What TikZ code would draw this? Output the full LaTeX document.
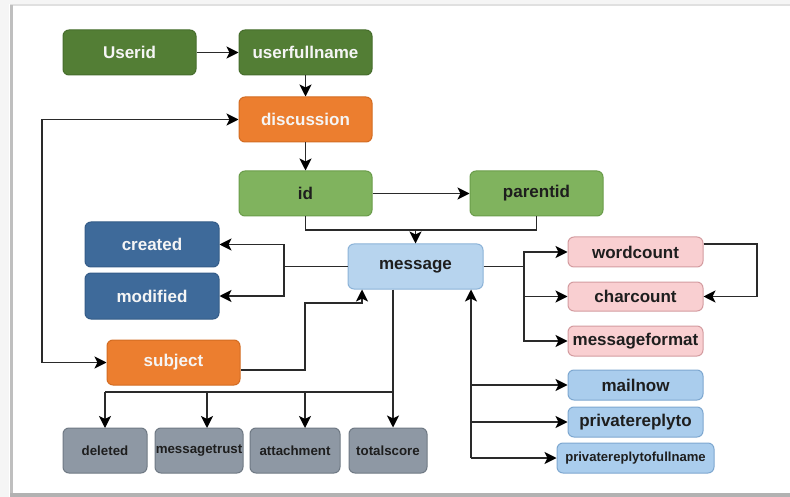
\documentclass[tikz,border=0pt]{standalone}
\usepackage{fontspec}
\setmainfont{Liberation Sans}
\usetikzlibrary{arrows.meta}

\definecolor{dkgreen}{HTML}{537E35}
\definecolor{dkgreenB}{HTML}{466D2C}
\definecolor{orng}{HTML}{EC7E2F}
\definecolor{orngB}{HTML}{D36C22}
\definecolor{ltgreen}{HTML}{80B35E}
\definecolor{ltgreenB}{HTML}{6A9C4A}
\definecolor{dkblue}{HTML}{3E6A9A}
\definecolor{dkblueB}{HTML}{345C88}
\definecolor{msgblue}{HTML}{B7D4EE}
\definecolor{msgblueB}{HTML}{8CB3D8}
\definecolor{pinkf}{HTML}{F9CFD1}
\definecolor{pinkB}{HTML}{D49CA0}
\definecolor{ltblue}{HTML}{AACDED}
\definecolor{ltblueB}{HTML}{7EA8D0}
\definecolor{grayf}{HTML}{8E98A4}
\definecolor{grayB}{HTML}{6F7984}
\definecolor{txtdark}{HTML}{1E1E1E}
\definecolor{wire}{HTML}{2A2A2A}

\tikzset{
  box/.style={draw, rounded corners=6pt, line width=1pt, inner sep=0pt,
    font=\fontsize{17}{20}\selectfont\bfseries, align=center},
  boxW/.style={box, minimum width=133pt, minimum height=45pt},
  dg/.style={boxW, fill=dkgreen, draw=dkgreenB, text=white!96!black},
  og/.style={boxW, fill=orng, draw=orngB, text=white!96!black},
  lg/.style={boxW, fill=ltgreen, draw=ltgreenB, text=txtdark},
  db/.style={box, minimum width=134pt, minimum height=45pt, fill=dkblue, draw=dkblueB, text=white!96!black},
  mb/.style={box, minimum width=135pt, minimum height=45pt, fill=msgblue, draw=msgblueB, text=txtdark},
  pk/.style={box, minimum width=135pt, minimum height=30pt, fill=pinkf, draw=pinkB, text=txtdark},
  lb/.style={box, minimum width=135pt, minimum height=30pt, fill=ltblue, draw=ltblueB, text=txtdark},
  gr/.style={box, minimum height=45pt, fill=grayf, draw=grayB, text=txtdark,
    font=\fontsize{13.3}{16}\selectfont\bfseries},
  wirel/.style={draw=wire, line width=1.4pt},
  tip/.tip={Stealth[length=12pt,width=12pt,inset=3pt,color=black]},
  arr/.style={wirel, -tip},
  arrb/.style={wirel, tip-tip},
}

\begin{document}
\begin{tikzpicture}[x=1pt, y=-1pt]
% page and card edges
\fill[white] (0,0) rectangle (790,497);
\useasboundingbox (0,0) rectangle (790,497);
\fill[black!4] (0,0) rectangle (790,4);
\draw[black!12, line width=1.2pt] (10,5) -- (790,5);
\fill[black!4] (0,0) rectangle (9,497);
\fill[black!25] (9.5,5) rectangle (13,495);
\fill[black!30] (9.5,492.5) rectangle (790,497);

% nodes
\node[dg] (userid) at (129.5,52.5) {Userid};
\node[dg] (userfull) at (305.5,52.5) {userfullname};
\node[og] (discussion) at (305.5,119.5) {discussion};
\node[lg] (id) at (305.5,193.5) {id};
\node[lg] (parentid) at (536.5,193.5) {parentid};
\node[db] (created) at (152,244.5) {created};
\node[db, minimum height=46pt] (modified) at (152,296) {modified};
\node[og] (subject) at (173.5,362.5) {subject};
\node[mb] (message) at (415.5,266.5) {message};
\node[pk] (wordcount) at (635.5,252) {wordcount};
\node[pk, minimum height=29pt] (charcount) at (635.5,296.5) {charcount};
\node[pk] (msgformat) at (635.5,341) {messageformat};
\node[lb] (mailnow) at (635.5,385) {mailnow};
\node[lb] (prt) at (635.5,422) {privatereplyto};
\node[lb, minimum width=157pt, font=\fontsize{13.1}{16}\selectfont\bfseries] (prtfull) at (635.5,458) {privatereplytofullname};
\node[gr, minimum width=84pt] (deleted) at (105,450.5) {deleted};
\node[gr, minimum width=88pt] (msgtrust) at (199,450.5) {messagetrust};
\node[gr, minimum width=90pt] (attach) at (295,450.5) {attachment};
\node[gr, minimum width=78pt] (total) at (388,450.5) {totalscore};

% junction points
\coordinate (lt) at (42,119.5);
\coordinate (lbt) at (42,362.5);
\coordinate (idj) at (415.5,230);
\coordinate (ml) at (284,266.5);
\coordinate (sj1) at (305,370);
\coordinate (sj2) at (305,303);
\coordinate (sj3) at (362,303);
\coordinate (mr) at (524,266.5);
\coordinate (wr1) at (757,244);
\coordinate (wr2) at (757,296.5);
\coordinate (mbus) at (393,392);
\coordinate (rbus) at (471,458);

% connectors
\draw[arr] (userid) -- (userfull);
\draw[arr] (userfull) -- (discussion);
\draw[arr] (discussion) -- (id);
\draw[arr] (id) -- (parentid);
\draw[wirel] (id.south) |- (idj) -| (parentid.south);
\draw[arr] (idj) -- (message.north);
\draw[arrb] (discussion.west) -- (lt) -- (lbt) -- (subject.west);
\draw[wirel] (message.west) -- (ml);
\draw[arr] (ml) |- (created.east);
\draw[arr] (ml) |- (modified.east);
\draw[arr] (subject.east |- sj1) -- (sj1) -- (sj2) -- (sj3) -- (sj3 |- message.south);
\draw[wirel] (message.east) -- (mr);
\draw[arr] (mr) |- (wordcount.west);
\draw[arr] (mr) |- (charcount.west);
\draw[arr] (mr) |- (msgformat.west);
\draw[arr] (wordcount.east |- wr1) -- (wr1) -- (wr2) -- (charcount.east);
\draw[arr] (mbus |- message.south) -- (mbus |- total.north);
\draw[wirel] (mbus) -- (105,392);
\draw[arr] (105,392) -- (105,428);
\draw[arr] (207,392) -- (207,428);
\draw[arr] (305,392) -- (305,428);
\draw[arr] (rbus) -- (rbus |- message.south);
\draw[arr] (rbus |- mailnow) -- (mailnow.west);
\draw[arr] (rbus |- prt) -- (prt.west);
\draw[arr] (rbus) -- (prtfull.west);
\end{tikzpicture}
\end{document}
